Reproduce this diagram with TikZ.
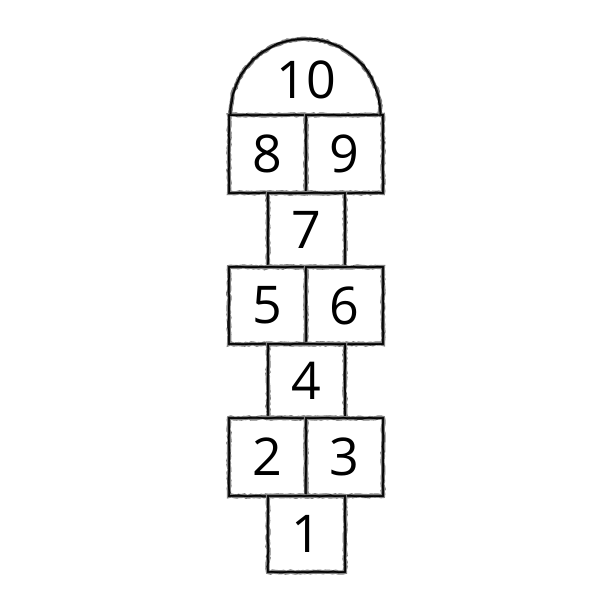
\documentclass[tikz,border=0pt]{standalone}
\usepackage{fontspec}
\setmainfont{Open Sans}
\usetikzlibrary{decorations.pathmorphing}
\begin{document}
\begin{tikzpicture}[x=1pt,y=-1pt,
  sketchline/.style={draw=black!90, line width=2.2pt,
    preaction={draw=black!50, line width=4.2pt, decorate,
      decoration={random steps, segment length=2.5pt, amplitude=0.7pt}},
    postaction={draw=black, line width=0.9pt, decorate,
      decoration={random steps, segment length=5pt, amplitude=1.1pt}}},
  cell/.style={rectangle, sketchline, inner sep=0pt, minimum width=77pt,
    font=\fontsize{52}{52}\selectfont},
  numlabel/.style={inner sep=0pt, font=\fontsize{52}{52}\selectfont}]
\pgfmathsetseed{7}
\useasboundingbox[fill=white] (0,0) rectangle (612,612);
% row 8 / 9
\node[cell, minimum height=78pt] (b8) at (267.5,154) {8};
\node[cell, minimum height=78pt] (b9) at (344.5,154) {9};
% 7
\node[cell, minimum height=74pt] (b7) at (306.5,230) {7};
% 5 / 6
\node[cell, minimum height=77pt] (b5) at (267.5,305.5) {5};
\node[cell, minimum height=77pt] (b6) at (344.5,305.5) {6};
% 4
\node[cell, minimum height=74pt] (b4) at (306.5,381) {4};
% 2 / 3
\node[cell, minimum height=78pt] (b2) at (267.5,457) {2};
\node[cell, minimum height=78pt] (b3) at (344.5,457) {3};
% 1
\node[cell, minimum height=76pt] (b1) at (306.5,534) {1};
% 10 half circle
\draw[sketchline] (b8.north west) ++(2.5,0) arc[start angle=180, end angle=360, radius=75];
\node[numlabel] (b10) at (306.5,80) {10};
\end{tikzpicture}
\end{document}
